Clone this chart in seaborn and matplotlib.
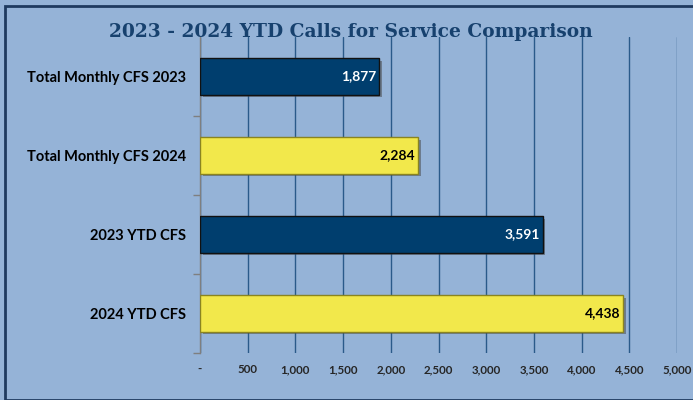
import matplotlib
matplotlib.use("Agg")
import matplotlib.pyplot as plt
import matplotlib.patheffects as pe
from matplotlib.patches import Rectangle
from matplotlib.ticker import FuncFormatter, FixedLocator
import matplotlib.colors as mcolors
import seaborn as sns
import pandas as pd

categories = ["Total Monthly CFS 2023", "Total Monthly CFS 2024", "2023 YTD CFS", "2024 YTD CFS"]
values = [1877, 2284, 3591, 4438]
years = ["2023", "2024", "2023", "2024"]
title = "2023 - 2024 YTD Calls for Service Comparison"

bg = "#95B3D7"
navy = "#003E6E"
yellow = "#F2E84B"
grid_c = "#2A5A8A"

sns.set_theme(style="white")
plt.rcParams["font.family"] = ["Lato", "DejaVu Sans"]

fig = plt.figure(figsize=(6.93, 4.0), dpi=100)
fig.patch.set_facecolor(bg)
fig.patches.append(Rectangle((5/693, 0), 1, 1 - 6/400, transform=fig.transFigure,
                             fill=False, edgecolor="#1F3A5F", linewidth=2.0))
ax = fig.add_axes([200/693, 1 - 353/400, 477/693, (353 - 37)/400])
ax.set_facecolor(bg)

df = pd.DataFrame({"cat": categories, "val": values, "year": years})
sns.barplot(data=df, x="val", y="cat", hue="year", palette={"2023": navy, "2024": yellow},
            dodge=False, width=0.46, saturation=1, legend=False, ax=ax, zorder=3)

for p in ax.patches:
    is_navy = mcolors.to_hex(p.get_facecolor()).lower() == navy.lower()
    p.set_edgecolor("#111111" if is_navy else "#8a8420")
    p.set_linewidth(1.0)
    p.set_path_effects([pe.SimplePatchShadow(offset=(2, -2), shadow_rgbFace="#444444", alpha=0.5), pe.Normal()])

for i, (v, yr) in enumerate(zip(values, years)):
    ax.text(v - 30, i, f"{v:,}", ha="right", va="center", fontsize=10, fontweight="bold",
            color="white" if yr == "2023" else "black", zorder=5)

ax.set_xlim(0, 5000)
ax.set_ylim(3.5, -0.5)
ax.xaxis.set_major_locator(FixedLocator(range(0, 5001, 500)))
ax.xaxis.set_major_formatter(FuncFormatter(lambda x, _: "-" if x == 0 else f"{int(x):,}"))
ax.grid(axis="x", color=grid_c, linewidth=1.0, zorder=0)
ax.set_axisbelow(True)
for s in ["top", "right", "bottom"]:
    ax.spines[s].set_visible(False)
ax.spines["left"].set_color("#7f7f7f")
ax.spines["left"].set_linewidth(1.0)
ax.tick_params(axis="x", length=0, pad=8, labelsize=8.3)
for t in ax.get_xticklabels():
    t.set_fontweight("bold")
ax.yaxis.set_minor_locator(FixedLocator([0.5, 1.5, 2.5, 3.5]))
ax.tick_params(axis="y", which="major", length=0, pad=10, labelsize=10.5)
ax.tick_params(axis="y", which="minor", length=5, color="#7f7f7f", left=True)
for t in ax.get_yticklabels():
    t.set_fontweight("bold")
    t.set_color("black")
ax.set_xlabel("")
ax.set_ylabel("")

fig.text(351/693, 1 - 32/400, title, ha="center", va="center", fontsize=13.4,
         fontweight="bold", color="#17416E", family=["DejaVu Serif"])

fig.savefig("out.png", dpi=100, facecolor=bg)
